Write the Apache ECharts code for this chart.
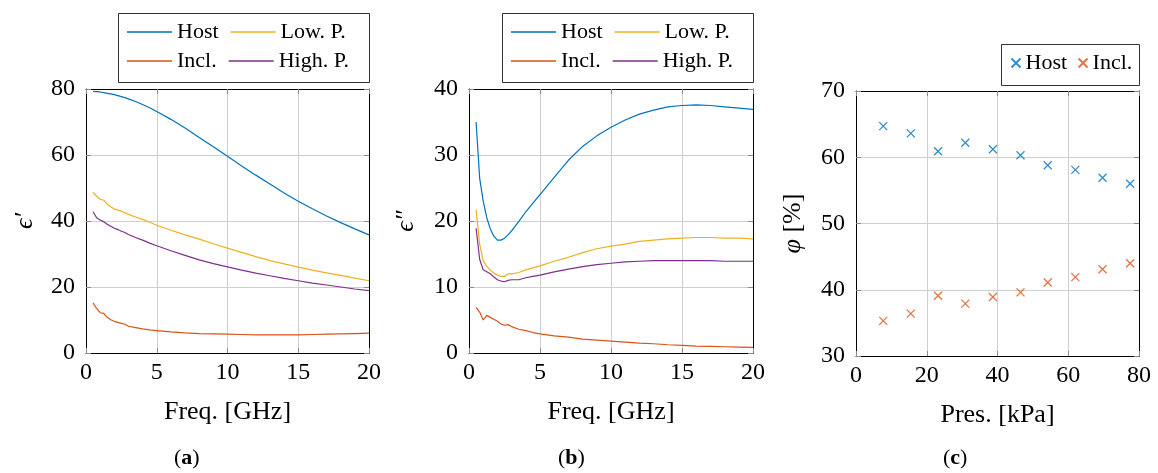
<!DOCTYPE html>
<html>
<head>
<meta charset="utf-8">
<script src="https://cdn.jsdelivr.net/npm/echarts@6/dist/echarts.min.js"></script>
<style>
  html, body { margin: 0; padding: 0; background: #fff; }
  #chart { width: 1158px; height: 473px; }
</style>
</head>
<body>
<div id="chart"></div>
<script>
// frequency sweep shared by panels (a) and (b), GHz
const FREQ = [0.5, 0.75, 1, 1.25, 1.5, 1.75, 2, 2.25, 2.5, 2.75, 3, 3.5, 4, 4.5, 5,
              6, 7, 8, 9, 10, 11, 12, 13, 14, 15, 16, 17, 18, 19, 20];

// (a) real part
const HOST_EPS1 = [79.3, 79.2, 79.1, 78.9, 78.7, 78.5, 78.3, 78.0, 77.7, 77.4, 77.0, 76.2, 75.3, 74.3, 73.2,
                   70.8, 68.2, 65.3, 62.5, 59.6, 56.7, 53.9, 51.2, 48.5, 46.0, 43.7, 41.5, 39.5, 37.6, 35.8];
const INCL_EPS1 = [15.2, 13.5, 12.2, 12.0, 10.8, 10.1, 9.6, 9.3, 9.0, 8.7, 8.1, 7.7, 7.3, 7.0, 6.8,
                   6.4, 6.1, 5.9, 5.8, 5.7, 5.6, 5.5, 5.5, 5.5, 5.5, 5.6, 5.7, 5.8, 5.9, 6.0];
const LOWP_EPS1 = [48.7, 47.5, 46.6, 46.3, 45.1, 44.3, 43.6, 43.3, 43.0, 42.5, 42.0, 41.2, 40.5, 39.6, 38.7,
                   37.2, 35.8, 34.5, 33.1, 31.8, 30.5, 29.2, 28.0, 27.0, 26.0, 25.1, 24.3, 23.5, 22.7, 21.9];
const HIGHP_EPS1 = [42.8, 41.0, 40.3, 39.8, 39.0, 38.4, 37.8, 37.4, 36.9, 36.5, 35.9, 35.0, 34.2, 33.3, 32.5,
                    31.0, 29.6, 28.2, 27.1, 26.1, 25.1, 24.2, 23.4, 22.6, 21.9, 21.2, 20.6, 20.0, 19.4, 18.9];

// (b) imaginary part
const HOST_EPS2 = [35.0, 26.5, 23.0, 20.5, 18.8, 17.7, 17.1, 17.1, 17.4, 17.9, 18.5, 19.9, 21.4, 22.7, 24.0,
                   26.6, 29.2, 31.3, 32.9, 34.2, 35.3, 36.2, 36.8, 37.3, 37.5, 37.6, 37.5, 37.3, 37.1, 36.9];
const INCL_EPS2 = [6.9, 6.2, 5.0, 5.7, 5.4, 5.1, 4.8, 4.4, 4.2, 4.3, 4.0, 3.6, 3.4, 3.1, 2.9,
                   2.6, 2.4, 2.1, 1.95, 1.8, 1.65, 1.5, 1.4, 1.25, 1.15, 1.05, 1.0, 0.95, 0.9, 0.85];
const LOWP_EPS2 = [21.7, 16.5, 14.0, 13.1, 12.6, 12.1, 11.8, 11.6, 11.6, 12.0, 12.0, 12.2, 12.6, 12.9, 13.2,
                   13.9, 14.5, 15.2, 15.8, 16.2, 16.5, 16.9, 17.1, 17.3, 17.4, 17.5, 17.5, 17.4, 17.4, 17.3];
const HIGHP_EPS2 = [18.9, 14.2, 12.6, 12.3, 12.0, 11.5, 11.1, 10.9, 10.8, 11.0, 11.1, 11.1, 11.4, 11.6, 11.8,
                    12.3, 12.7, 13.1, 13.4, 13.6, 13.8, 13.9, 14.0, 14.0, 14.0, 14.0, 14.0, 13.9, 13.9, 13.9];

// (c) volume fraction vs pressure
const PRES = [7.7, 15.5, 23.2, 30.9, 38.7, 46.5, 54.2, 62.0, 69.7, 77.5];
const HOST_PHI = [64.7, 63.6, 60.9, 62.2, 61.2, 60.3, 58.8, 58.1, 56.9, 56.0];
const INCL_PHI = [35.3, 36.4, 39.1, 37.9, 38.9, 39.6, 41.1, 41.9, 43.1, 44.0];

const C_HOST = "#0072BD";
const C_INCL = "#D95319";
const C_LOWP = "#EDB120";
const C_HIGHP = "#7E2F8E";
const FONT = "Liberation Serif";

const pairs = (xs, ys) => xs.map((x, i) => [x, ys[i]]);

const gridLine = { show: true, lineStyle: { color: "#cfcfcf", width: 1 } };
const frame = { show: true, onZero: false, lineStyle: { color: "#000", width: 1 } };
const tick = { show: true, inside: true, length: 5, lineStyle: { color: "#8a8a8a", width: 1 } };

function xAxes(gridIndex, max, interval, name) {
    return [
        {
            type: "value", gridIndex, min: 0, max, interval, position: "bottom",
            name, nameLocation: "middle", nameGap: 46,
            nameTextStyle: { fontFamily: FONT, fontSize: 26, color: "#000" },
            axisLine: frame, axisTick: tick, splitLine: gridLine,
            axisLabel: { fontFamily: FONT, fontSize: 24, color: "#000", margin: 8 }
        },
        {
            type: "value", gridIndex, min: 0, max, interval, position: "top",
            axisLine: frame, axisTick: tick, splitLine: { show: false },
            axisLabel: { show: false }
        }
    ];
}

function yAxes(gridIndex, min, max, interval, name, gap, rich) {
    return [
        {
            type: "value", gridIndex, min, max, interval, position: "left",
            name, nameLocation: "middle", nameGap: gap, nameRotate: 90,
            nameTextStyle: { fontFamily: FONT, fontSize: 26, color: "#000", fontStyle: rich ? "normal" : "italic", rich },
            axisLine: frame, axisTick: tick, splitLine: gridLine,
            axisLabel: { fontFamily: FONT, fontSize: 24, color: "#000", margin: 11 }
        },
        {
            type: "value", gridIndex, min, max, interval, position: "right",
            axisLine: frame, axisTick: tick, splitLine: { show: false },
            axisLabel: { show: false }
        }
    ];
}

function lineSeries(name, color, axis, xs, ys) {
    return {
        name, type: "line", xAxisIndex: axis, yAxisIndex: axis,
        symbol: "none", showSymbol: false,
        lineStyle: { color, width: 1.2 }, itemStyle: { color },
        data: pairs(xs, ys)
    };
}

const CROSS = "path://M0,0L10,10M0,10L10,0";
function crossSeries(name, color, xs, ys) {
    return {
        name, type: "scatter", xAxisIndex: 4, yAxisIndex: 4,
        symbol: CROSS, symbolSize: 8,
        itemStyle: { color: "none", borderColor: color, borderWidth: 1.3 },
        data: pairs(xs, ys)
    };
}

// one legend row; the surrounding box is drawn as a graphic rect
function lineLegendRow(left, top, names) {
    return {
        left, top, orient: "horizontal", padding: 0,
        icon: "rect", itemWidth: 45, itemHeight: 1.3, itemGap: 12,
        data: names,
        textStyle: { fontFamily: FONT, fontSize: 22, color: "#000", width: 41, overflow: "none" }
    };
}

function legendBox(x, y, w, h) {
    return {
        type: "rect", silent: true, z: 10,
        shape: { x: x + 0.5, y: y + 0.5, width: w, height: h },
        style: { fill: null, stroke: "#333", lineWidth: 1 }
    };
}

const chart = echarts.init(document.getElementById("chart"));

const option = {
    animation: false,
    backgroundColor: "#fff",
    grid: [
        { left: 86, top: 89, width: 283, height: 264, show: false },
        { left: 469, top: 89, width: 284, height: 264, show: false },
        { left: 856, top: 91, width: 283, height: 265, show: false }
    ],
    xAxis: [
        ...xAxes(0, 20, 5, "Freq. [GHz]"),
        ...xAxes(1, 20, 5, "Freq. [GHz]"),
        ...xAxes(2, 80, 20, "Pres. [kPa]")
    ],
    yAxis: [
        ...yAxes(0, 0, 80, 20, "ϵ′", 48),
        ...yAxes(1, 0, 40, 10, "ϵ″", 50),
        ...yAxes(2, 30, 70, 10, "{i|φ} [%]", 50,
                 { i: { fontFamily: FONT, fontSize: 26, fontStyle: "italic", color: "#000" } })
    ],
    legend: [
        lineLegendRow(127, 21, ["Host", "Low. P."]),
        lineLegendRow(127, 50, ["Incl.", "High. P."]),
        lineLegendRow(511, 21, ["Host", "Low. P."]),
        lineLegendRow(511, 50, ["Incl.", "High. P."]),
        {
            left: 1009, top: 52, orient: "horizontal", padding: 0,
            itemWidth: 9, itemHeight: 9, itemGap: 9,
            data: ["Host ", "Incl. "],
            formatter: n => n.trim(),
            textStyle: { fontFamily: FONT, fontSize: 22, color: "#000" }
        }
    ],
    series: [
        lineSeries("Host", C_HOST, 0, FREQ, HOST_EPS1),
        lineSeries("Incl.", C_INCL, 0, FREQ, INCL_EPS1),
        lineSeries("Low. P.", C_LOWP, 0, FREQ, LOWP_EPS1),
        lineSeries("High. P.", C_HIGHP, 0, FREQ, HIGHP_EPS1),
        lineSeries("Host", C_HOST, 2, FREQ, HOST_EPS2),
        lineSeries("Incl.", C_INCL, 2, FREQ, INCL_EPS2),
        lineSeries("Low. P.", C_LOWP, 2, FREQ, LOWP_EPS2),
        lineSeries("High. P.", C_HIGHP, 2, FREQ, HIGHP_EPS2),
        crossSeries("Host ", C_HOST, PRES, HOST_PHI),
        crossSeries("Incl. ", C_INCL, PRES, INCL_PHI)
    ],
    graphic: [
        legendBox(118, 13, 251, 69),
        legendBox(502, 13, 251, 69),
        legendBox(1001, 44, 138, 41),
        ...[["a", 188], ["b", 572], ["c", 957]].map(([letter, x]) => ({
            type: "text", left: x - 14, top: 447,
            style: {
                text: "({b|" + letter + "})",
                font: "22px " + FONT, fill: "#000",
                rich: { b: { fontFamily: FONT, fontSize: 22, fontWeight: "bold", fill: "#000" } }
            }
        }))
    ]
};

chart.setOption(option);
</script>
</body>
</html>
